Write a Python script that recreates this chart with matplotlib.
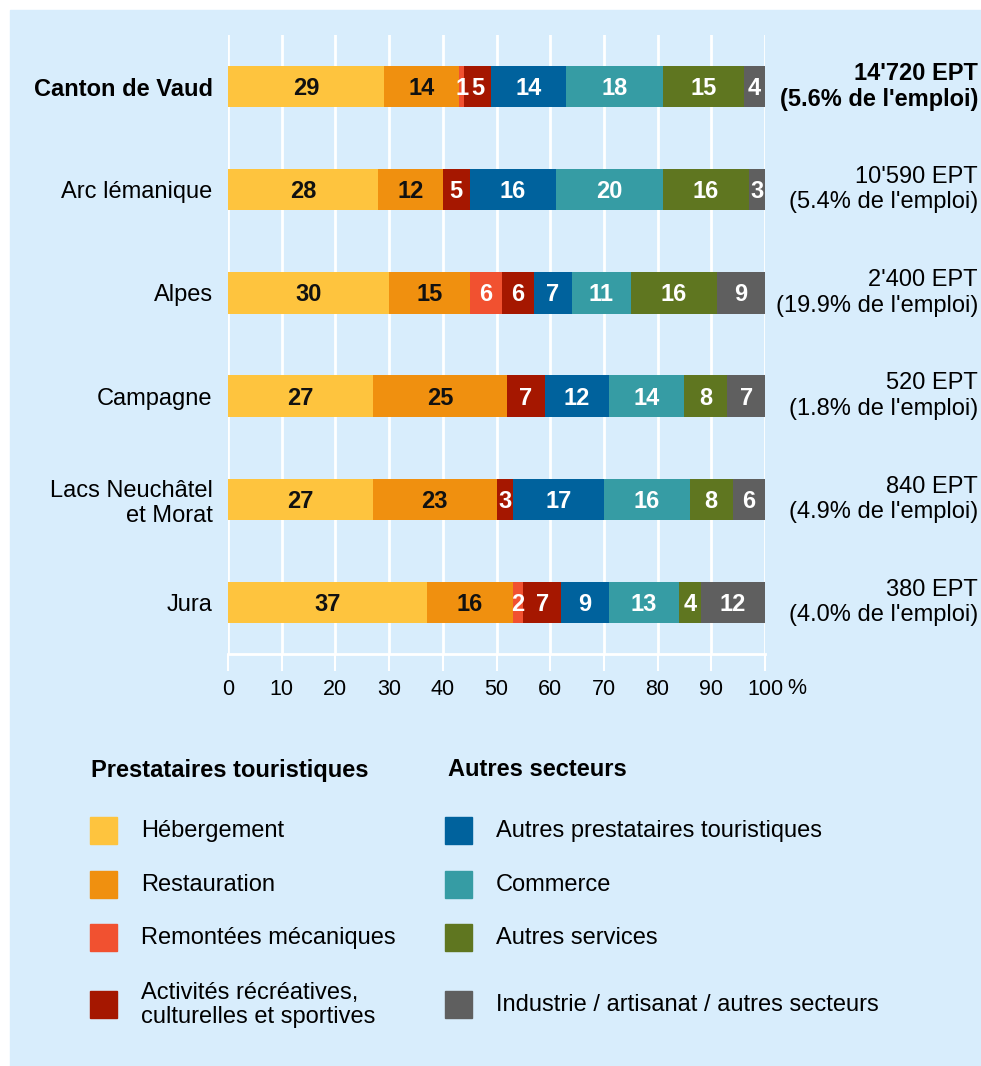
import matplotlib.pyplot as plt
import matplotlib.transforms as mtransforms
from matplotlib.patches import Rectangle

plt.rcParams['font.family'] = ['Liberation Sans', 'DejaVu Sans']

# Data (shares of tourism-related employment, in %)
regions = ["Canton de Vaud", "Arc lémanique", "Alpes", "Campagne",
           "Lacs Neuchâtel\net Morat", "Jura"]
hebergement = [29, 28, 30, 27, 27, 37]
restauration = [14, 12, 15, 25, 23, 16]
remontees = [1, 0, 6, 0, 0, 2]
activites = [5, 5, 6, 7, 3, 7]
autres_prest = [14, 16, 7, 12, 17, 9]
commerce = [18, 20, 11, 14, 16, 13]
autres_serv = [15, 16, 16, 8, 8, 4]
industrie = [4, 3, 9, 7, 6, 12]
ept = ["14'720", "10'590", "2'400", "520", "840", "380"]
part_emploi = [5.6, 5.4, 19.9, 1.8, 4.9, 4.0]

sector_names = ["Hébergement", "Restauration", "Remontées mécaniques",
                "Activités récréatives,\nculturelles et sportives",
                "Autres prestataires touristiques", "Commerce",
                "Autres services", "Industrie / artisanat / autres secteurs"]
sector_values = [hebergement, restauration, remontees, activites,
                 autres_prest, commerce, autres_serv, industrie]
colors = ["#fec43e", "#f0900f", "#f15130", "#a51700",
          "#00629d", "#369ca4", "#5f7620", "#5f5f5f"]
label_colors = ["#111111", "#111111"] + ["white"] * 6
groups = ["Prestataires touristiques", "Autres secteurs"]

W, H = 981, 1066
bg = "#d8edfc"


def fx(px):
    return px / W


def fy(py):
    return 1 - py / H


fig = plt.figure(figsize=(W / 100, H / 100), dpi=100)
fig.patches.append(Rectangle((fx(10), 0), 1 - fx(10), fy(10),
                             transform=fig.transFigure, color=bg, zorder=-10))

ax = fig.add_axes([fx(228), fy(654), fx(765) - fx(228), fy(35) - fy(654)])
ax.set_facecolor("none")
ax.set_xlim(0, 100)
ax.set_ylim(5.5, -0.5)

# grid and axis
ax.set_xticks(range(0, 101, 10))
ax.grid(axis="x", color="white", lw=2)
ax.set_axisbelow(True)
for s in ["top", "right", "left"]:
    ax.spines[s].set_visible(False)
ax.spines["bottom"].set_color("white")
ax.spines["bottom"].set_linewidth(2)
ax.tick_params(axis="x", color="white", length=12, width=1.5,
               labelsize=15.5, pad=6)
fig.text(fx(787), fy(689), "%", ha="left", va="center", fontsize=15.5)

ax.set_yticks(range(len(regions)), regions)
ax.tick_params(axis="y", length=0, pad=11, labelsize=17)
ax.get_yticklabels()[0].set_fontweight("bold")

# stacked bars
left = [0] * len(regions)
for vals, c, lc in zip(sector_values, colors, label_colors):
    ax.barh(range(len(regions)), vals, left=left, height=0.4, color=c, lw=0)
    for i, v in enumerate(vals):
        if v > 0:
            ax.text(left[i] + v / 2, i + 0.02, str(v), ha="center", va="center",
                    fontsize=17, fontweight="bold", color=lc)
    left = [l + v for l, v in zip(left, vals)]

# totals on the right
trans = mtransforms.blended_transform_factory(fig.transFigure, ax.transData)
for i, (e, p) in enumerate(zip(ept, part_emploi)):
    ax.text(fx(978), i, f"{e} EPT\n({p:.1f}% de l'emploi)", ha="right",
            va="center", transform=trans, fontsize=17, linespacing=1.2,
            fontweight="bold" if i == 0 else "normal", clip_on=False)

# legend
row_y = [830, 884, 937, 1004]
col_x = [90, 445]
head_x = [91, 448]
for g in range(2):
    fig.text(fx(head_x[g]), fy(770), groups[g], ha="left", va="center",
             fontsize=17, fontweight="bold")
    for r in range(4):
        k = g * 4 + r
        fig.patches.append(Rectangle((fx(col_x[g]), fy(row_y[r] + 13.5)),
                                     27 / W, 27 / H, transform=fig.transFigure,
                                     color=colors[k]))
        fig.text(fx(col_x[g] + 51), fy(row_y[r] + 1), sector_names[k],
                 ha="left", va="center", fontsize=17, linespacing=1.15)

fig.savefig("out.png", dpi=100)
